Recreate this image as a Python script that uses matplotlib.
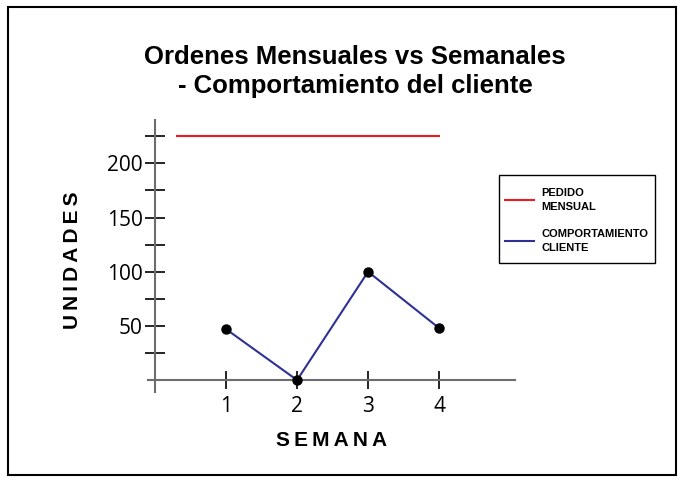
import matplotlib
import matplotlib.pyplot as plt
from matplotlib.patches import Rectangle

matplotlib.use("Agg")

# Data
semanas = [1, 2, 3, 4]
comportamiento = [47, 0, 100, 48]
pedido_x = [0.31, 4]
pedido_mensual = [225, 225]
y_ticks = [50, 100, 150, 200]
y_minor = [25, 75, 125, 175, 225]

title = "Ordenes Mensuales vs Semanales\n- Comportamiento del cliente"
bold_font = "Liberation Sans"
tick_font = "Open Sans"

fig = plt.figure(figsize=(6.83, 4.82), dpi=100)
ax = fig.add_axes([148 / 683, 0.1867, 367 / 683, 0.5643])

ax.plot(pedido_x, pedido_mensual, color="#ed1c24", linewidth=1.5,
        label="PEDIDO\nMENSUAL")
ax.plot(semanas, comportamiento, color="#2e3192", linewidth=1.5,
        label="COMPORTAMIENTO\nCLIENTE")
ax.plot(semanas, comportamiento, "o", color="black", markersize=6.5,
        zorder=5, clip_on=False)

ax.set_xlim(-0.1, 5.07)
ax.set_ylim(-11, 240)

# Axes cross at the origin
ax.spines["left"].set_position(("data", 0))
ax.spines["bottom"].set_position(("data", 0))
for side in ("top", "right"):
    ax.spines[side].set_visible(False)
for side in ("left", "bottom"):
    ax.spines[side].set_color("#6d6d6d")
    ax.spines[side].set_linewidth(1.5)

ax.set_xticks(semanas)
ax.set_yticks(y_ticks)
ax.set_yticks(y_minor, minor=True)
ax.tick_params(axis="y", which="both", direction="inout", length=14,
               width=1.2, color="black", labelsize=15, pad=2)
ax.tick_params(axis="x", direction="inout", length=13, width=1.2,
               color="black", labelsize=15, pad=5)
for lbl in ax.get_xticklabels() + ax.get_yticklabels():
    lbl.set_family(tick_font)

fig.text(355 / 683, 1 - 71.5 / 482, title, ha="center", va="center",
         fontsize=18.5, fontweight="bold", family=bold_font, linespacing=1.3)

fig.text(332 / 683, 1 - 441 / 482, "\u2009".join("SEMANA"), ha="center",
         va="center", fontsize=15, fontweight="bold", family=bold_font)
fig.text(72 / 683, 1 - 260 / 482, "\u2009".join("UNIDADES"), ha="center",
         va="center", rotation=90, fontsize=15, fontweight="bold",
         family=bold_font)

# Legend without its own frame; the box is drawn separately
leg = fig.legend(loc="upper left", bbox_to_anchor=(505 / 683, 1 - 188 / 482),
                 frameon=False,
                 prop={"family": bold_font, "weight": "bold", "size": 8},
                 handlelength=2.6, labelspacing=1.6, borderpad=0,
                 handletextpad=0.7, borderaxespad=0)
for t in leg.get_texts():
    t.set_linespacing(1.45)
fig.patches.append(Rectangle((499 / 683, 1 - 263 / 482), 156 / 683, 88 / 482,
                             transform=fig.transFigure, fill=False,
                             edgecolor="black", linewidth=1.0))

fig.patches.append(Rectangle((8 / 683, 7 / 482), 668 / 683, 468 / 482,
                             transform=fig.transFigure, fill=False,
                             edgecolor="black", linewidth=1.5))

fig.savefig("out.png", dpi=100)
plt.close(fig)
